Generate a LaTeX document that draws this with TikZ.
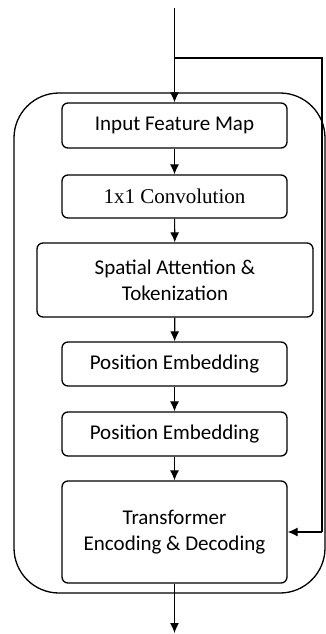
\documentclass[tikz,border=0pt]{standalone}
\usepackage{fontspec}
\setmainfont{Carlito}
\newfontfamily\timesf{Liberation Serif}
\usetikzlibrary{arrows.meta}
\begin{document}
\begin{tikzpicture}[x=1pt,y=-1pt,
  blk/.style={draw,line width=1.3pt,rounded corners=6pt,minimum width=225pt,inner sep=0pt,align=center,font=\fontsize{21}{26}\selectfont},
  arr/.style={line width=1.1pt,-{Latex[length=10pt,width=9pt]}},
  ln/.style={line width=1.1pt}]
\useasboundingbox (0,0) rectangle (326,634);
\node[draw,line width=1.3pt,rounded corners=45pt,minimum width=311pt,minimum height=500pt,inner sep=0pt] (outer) at (169.5,343) {};
\node[blk,minimum height=45pt] (in) at (174.5,125.5) {Input Feature Map};
\node[blk,minimum height=43pt,font=\timesf\fontsize{21}{26}\selectfont] (conv) at (174.5,196.5) {1x1 Convolution};
\node[blk,minimum width=276pt,minimum height=74pt] (sat) at (175,280) {Spatial Attention \&\\Tokenization};
\node[blk,minimum height=44pt] (pe1) at (174.5,364) {Position Embedding};
\node[blk,minimum height=44pt] (pe2) at (174.5,434) {Position Embedding};
\node[blk,minimum height=102pt] (tr) at (174.5,532) {Transformer\\Encoding \& Decoding};
\coordinate (top) at (174.5,8);
\coordinate (split) at (174.5,58);
\coordinate (rt) at (322,58);
\coordinate (rb) at (322,532);
\coordinate (bot) at (174.5,633);
\draw[arr] (top) -- (in.north);
\draw[ln] (split) -- (rt) -- (rb);
\draw[arr] (rb) -- (tr.east);
\draw[arr] (in) -- (conv);
\draw[arr] (conv) -- (sat);
\draw[arr] (sat) -- (pe1);
\draw[arr] (pe1) -- (pe2);
\draw[arr] (pe2) -- (tr);
\draw[arr] (tr) -- (bot);
\end{tikzpicture}
\end{document}
